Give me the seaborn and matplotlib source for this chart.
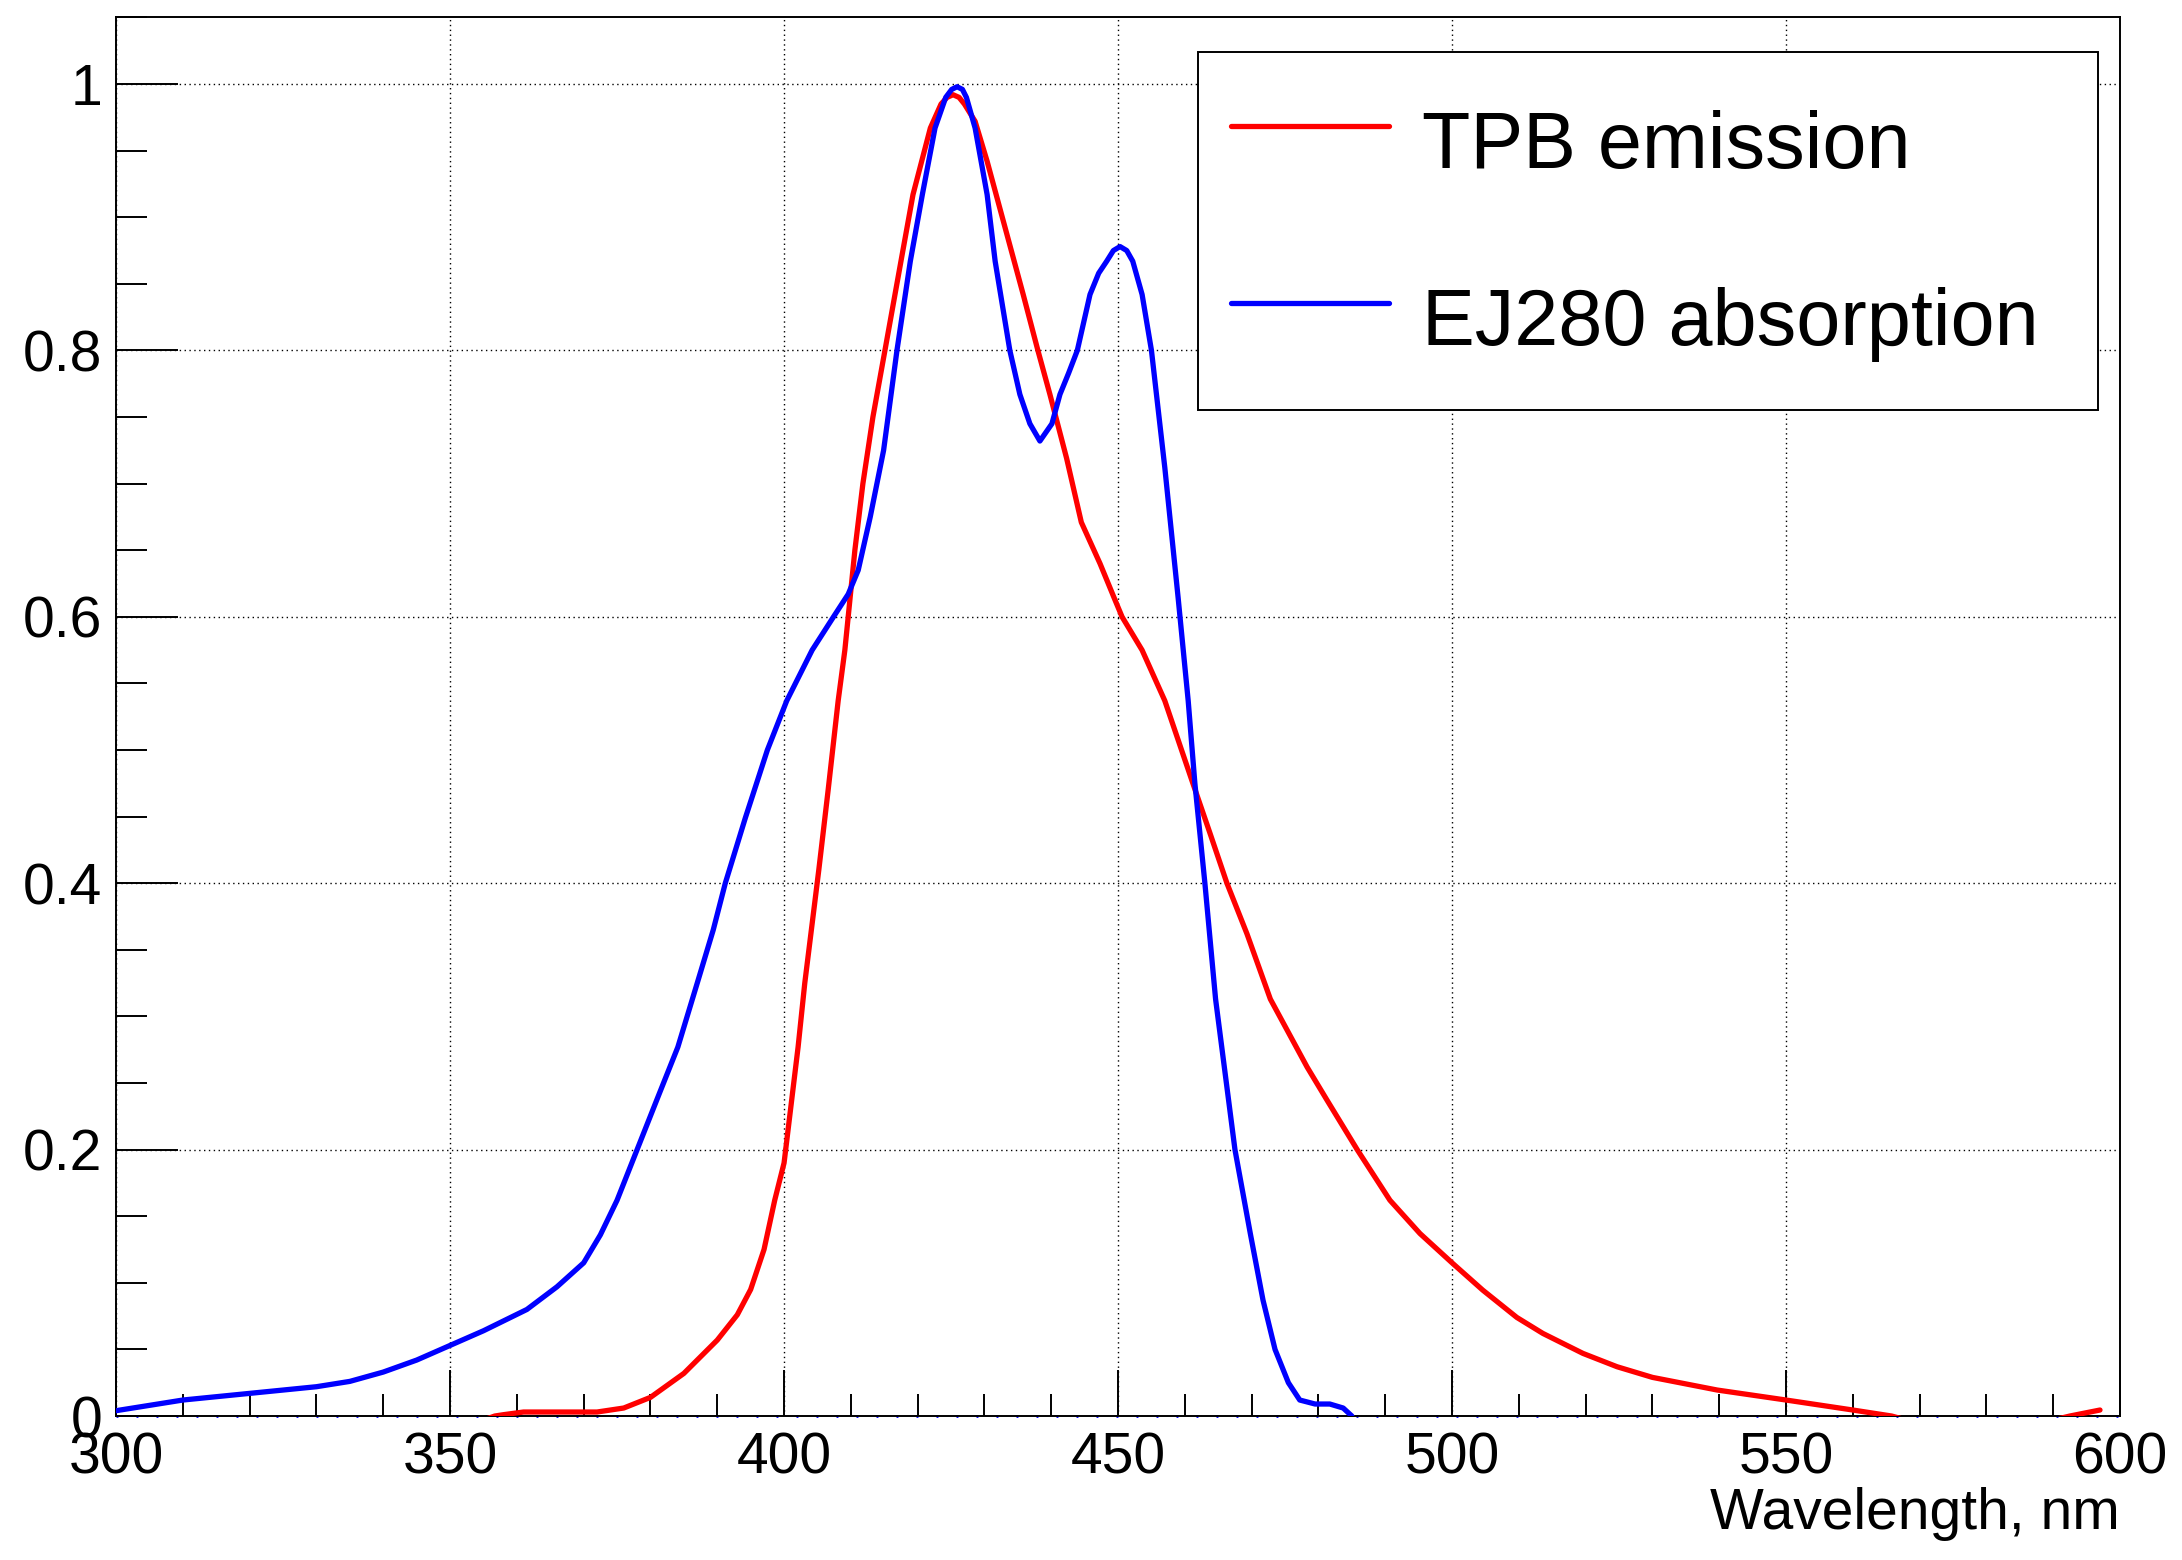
import numpy as np
import pandas as pd
import matplotlib
matplotlib.use('Agg')
import matplotlib.pyplot as plt
import seaborn as sns
from matplotlib.ticker import MultipleLocator, FuncFormatter

# TPB emission spectrum
tpb_wl = [355, 356.7, 358, 361, 366, 372, 376, 380, 385, 390, 393, 395, 397, 398.6, 400,
          402.1, 403.1, 405.2, 406.6, 408.1, 409.1, 409.6, 410.6, 411.8, 413.3, 415.1,
          417.5, 419.3, 421.9, 423.5, 424.4, 425.3, 426.2, 427, 428.6, 430.4, 433.1,
          435.8, 438, 439.8, 442.3, 444.5, 447.3, 449.6, 450.6, 453.6, 457, 461.2, 463.8,
          466.3, 469.3, 472.8, 478.3, 481.3, 485.8, 490.7, 495.2, 500, 504.6, 509.7,
          513.6, 519.6, 524.7, 530, 539.7, 550, 560, 565.8, 568, 590, 592.5, 597]
tpb_val = [-0.003, 0.0, 0.001, 0.003, 0.003, 0.003, 0.006, 0.014, 0.032, 0.057, 0.076,
           0.095, 0.125, 0.162, 0.19, 0.277, 0.325, 0.41, 0.47, 0.537, 0.575, 0.6, 0.65,
           0.70, 0.75, 0.8, 0.867, 0.917, 0.967, 0.985, 0.99, 0.992, 0.99, 0.985, 0.972,
           0.942, 0.892, 0.842, 0.8, 0.767, 0.719, 0.671, 0.64, 0.612, 0.6, 0.575, 0.537,
           0.475, 0.437, 0.4, 0.362, 0.313, 0.262, 0.237, 0.2, 0.162, 0.137, 0.115, 0.0945,
           0.074, 0.062, 0.047, 0.037, 0.029, 0.0195, 0.012, 0.0045, 0.0, -0.003, -0.003,
           0.0, 0.0045]

# EJ280 absorption spectrum
ej_wl = [300, 305, 310, 320, 330, 335, 340, 345, 350, 355, 361.5, 366, 370, 372.5, 375,
         378, 381, 384.1, 387, 389.4, 391.2, 394.2, 397.5, 400.4, 404.2, 407.4, 409.6,
         411.1, 412.9, 414.9, 416.9, 418.9, 420.7, 422.6, 424.2, 425.1, 425.9, 426.7,
         427.3, 428.6, 430.4, 431.6, 433.8, 435.3, 436.8, 438.3, 440.1, 441.3, 442.6,
         443.9, 445.8, 447.1, 448.3, 449.3, 450.3, 451.3, 452.2, 453.6, 455.0, 457, 459,
         460.5, 461.5, 463, 464.6, 467.5, 469.8, 471.7, 473.5, 475.5, 477.2, 479.5, 481.7,
         483.7, 485]
ej_val = [0.004, 0.008, 0.012, 0.017, 0.022, 0.026, 0.033, 0.042, 0.053, 0.064, 0.08,
          0.097, 0.115, 0.136, 0.162, 0.2, 0.238, 0.277, 0.325, 0.365, 0.4, 0.449, 0.5,
          0.537, 0.575, 0.6, 0.617, 0.635, 0.675, 0.725, 0.8, 0.867, 0.917, 0.967, 0.99,
          0.996, 0.998, 0.996, 0.99, 0.967, 0.917, 0.867, 0.8, 0.767, 0.745, 0.732, 0.745,
          0.767, 0.783, 0.8, 0.842, 0.858, 0.867, 0.875, 0.878, 0.875, 0.867, 0.842, 0.8,
          0.712, 0.614, 0.537, 0.475, 0.4, 0.313, 0.2, 0.137, 0.087, 0.05, 0.025, 0.012,
          0.009, 0.009, 0.006, 0.0]

df = pd.concat([
    pd.DataFrame({'wl': tpb_wl, 'val': tpb_val, 'curve': 'TPB emission'}),
    pd.DataFrame({'wl': ej_wl, 'val': ej_val, 'curve': 'EJ280 absorption'}),
])

sns.set_style('ticks')
plt.rcParams['font.family'] = ['Liberation Sans', 'DejaVu Sans']
plt.rcParams.update({'text.color': 'black', 'axes.labelcolor': 'black',
                     'xtick.color': 'black', 'ytick.color': 'black'})

fig = plt.figure(figsize=(21.82, 15.6), dpi=100)
ax = fig.add_axes([0.0532, 0.0923, 0.9184, 0.8965])

ax.axhline(0, color='blue', ls=(0, (0.7, 6.5)), lw=2, zorder=1, clip_on=False)

sns.lineplot(data=df, x='wl', y='val', hue='curve', sort=False, estimator=None,
             palette={'TPB emission': 'red', 'EJ280 absorption': 'blue'},
             linewidth=3.8, ax=ax, zorder=3)

ax.set_xlim(300, 600)
ax.set_ylim(0, 1.05)

ax.xaxis.set_major_locator(MultipleLocator(50))
ax.xaxis.set_minor_locator(MultipleLocator(10))
ax.yaxis.set_major_locator(MultipleLocator(0.2))
ax.yaxis.set_minor_locator(MultipleLocator(0.05))
ax.yaxis.set_major_formatter(FuncFormatter(lambda v, _: '%g' % round(v, 2)))

ax.tick_params(axis='both', which='both', direction='in', width=1.4, colors='black',
               labelsize=41, top=False, right=False)
ax.tick_params(axis='y', which='major', length=44.6, pad=10)
ax.tick_params(axis='y', which='minor', length=22)
ax.tick_params(axis='x', which='major', length=33, pad=11)
ax.tick_params(axis='x', which='minor', length=16)

ax.grid(True, which='major', color='black', ls=(0, (1, 2.5)), lw=1.0)
for s in ax.spines.values():
    s.set_linewidth(1.4)
    s.set_color('black')

ax.set_ylabel('')
ax.set_xlabel('Wavelength, nm', fontsize=41)
ax.xaxis.set_label_coords(1.0, -0.051)
ax.xaxis.label.set_ha('right')
ax.xaxis.label.set_va('top')

handles, labels = ax.get_legend_handles_labels()
leg = ax.legend(handles, labels, loc='upper left',
                bbox_to_anchor=(0.540, 0.7193, 0.449, 0.256), mode='expand',
                borderaxespad=0, fontsize=57, frameon=True, fancybox=False,
                framealpha=1, edgecolor='black', borderpad=0.41, handlelength=2.0,
                handletextpad=0.42, handleheight=1.87, labelspacing=0.78)
leg.get_frame().set_linewidth(1.4)
for line in leg.get_lines():
    line.set_linewidth(3.8)

fig.savefig('out.png', dpi=100)
